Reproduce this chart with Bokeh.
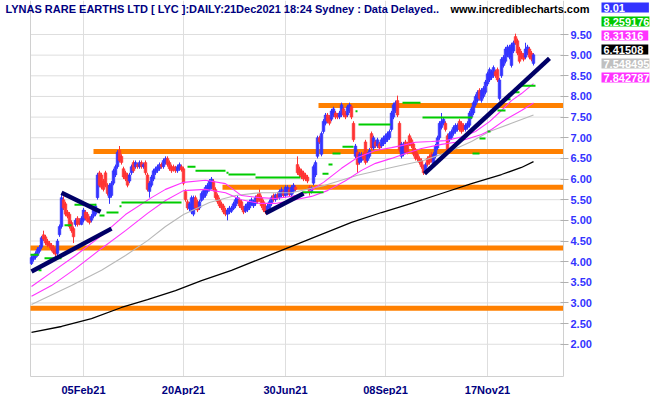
from bokeh.plotting import figure
from bokeh.models import Range1d, FixedTicker, NumeralTickFormatter, Label, ColumnDataSource
from bokeh.embed import file_html
from bokeh.resources import INLINE

# ---------------- data ----------------
opens = [
    3.95, 4.05, 4.10, 4.15, 4.25, 4.35, 4.65, 4.60, 4.50, 4.45,
    4.40, 4.35, 4.30, 4.20, 4.65, 4.85, 5.50, 5.40, 5.20, 5.15,
    4.95, 4.80, 4.90, 5.05, 5.00, 4.90, 5.00, 5.20, 5.15, 5.05,
    5.00, 5.10, 5.15, 5.55, 6.15, 6.10, 5.95, 6.15, 5.85, 5.55,
    5.60, 5.90, 6.10, 6.30, 6.70, 6.55, 6.25, 6.15, 6.10, 5.95,
    6.15, 6.40, 6.30, 6.35, 6.30, 6.40, 6.30, 6.40, 6.10, 5.70,
    5.85, 6.00, 6.15, 6.20, 6.25, 6.35, 6.30, 6.40, 6.50, 6.40,
    6.30, 6.30, 6.28, 6.20, 6.25, 6.30, 6.25, 5.70, 5.45, 5.28,
    5.20, 5.15, 5.55, 5.45, 5.30, 5.48, 5.55, 5.60, 5.70, 5.75,
    5.80, 5.95, 5.75, 5.60, 5.50, 5.40, 5.35, 5.25, 5.15, 5.20,
    5.22, 5.28, 5.35, 5.42, 5.50, 5.45, 5.30, 5.22, 5.25, 5.30,
    5.38, 5.35, 5.40, 5.60, 5.65, 5.55, 5.45, 5.35, 5.25, 5.30,
    5.40, 5.60, 5.50, 5.62, 5.55, 5.60, 5.70, 5.60, 5.65, 5.75,
    5.62, 5.70, 5.80, 6.35, 6.25, 6.20, 6.15, 6.10, 6.05, 5.80,
    5.70, 5.90, 6.10, 6.55, 7.00, 6.60, 7.15, 7.35, 7.55, 7.50,
    7.45, 7.55, 7.60, 7.55, 7.50, 7.55, 7.70, 7.60, 7.55, 7.65,
    7.75, 7.35, 6.55, 6.65, 6.40, 6.45, 6.60, 6.90, 6.45, 6.55,
    7.10, 6.75, 6.90, 6.80, 6.85, 6.80, 6.85, 6.90, 6.95, 7.00,
    7.20, 7.50, 7.65, 7.90, 7.35, 6.55, 6.60, 6.90, 6.85, 7.05,
    6.95, 6.85, 6.70, 6.60, 6.50, 6.45, 6.30, 6.20, 6.50, 6.55,
    6.60, 6.35, 6.55, 6.75, 7.00, 7.25, 7.35, 7.35, 7.05, 6.95,
    7.00, 7.10, 7.15, 7.20, 7.40, 7.35, 7.30, 7.20, 7.25, 7.30,
    7.50, 7.60, 7.80, 7.90, 8.15, 7.90, 8.00, 8.10, 8.30, 8.40,
    8.45, 8.50, 8.60, 8.65, 7.95, 8.50, 8.75, 8.85, 9.00, 8.95,
    8.75, 9.10, 9.45, 9.35, 9.15, 9.05, 9.00, 8.95, 9.05, 9.15,
    9.05, 8.80,
]
highs = [
    4.15, 4.18, 4.25, 4.35, 4.40, 4.62, 4.75, 4.65, 4.55, 4.50,
    4.45, 4.40, 4.32, 4.55, 4.90, 5.65, 5.58, 5.45, 5.25, 5.20,
    5.00, 4.85, 5.05, 5.10, 5.05, 5.10, 5.30, 5.25, 5.20, 5.10,
    5.15, 5.35, 5.40, 6.15, 6.20, 6.15, 6.00, 6.20, 5.90, 5.90,
    5.95, 6.25, 6.35, 6.70, 6.80, 6.60, 6.30, 6.20, 6.15, 6.15,
    6.35, 6.45, 6.45, 6.40, 6.45, 6.45, 6.40, 6.45, 6.15, 5.95,
    6.10, 6.25, 6.30, 6.35, 6.40, 6.40, 6.50, 6.55, 6.55, 6.45,
    6.35, 6.35, 6.32, 6.35, 6.40, 6.35, 6.30, 5.75, 5.50, 5.45,
    5.60, 5.60, 5.60, 5.50, 5.50, 5.70, 5.75, 5.85, 5.90, 6.00,
    6.05, 6.00, 5.80, 5.65, 5.55, 5.45, 5.40, 5.30, 5.30, 5.35,
    5.35, 5.45, 5.55, 5.60, 5.55, 5.50, 5.35, 5.40, 5.45, 5.50,
    5.55, 5.50, 5.60, 5.65, 5.75, 5.60, 5.50, 5.40, 5.40, 5.50,
    5.60, 5.65, 5.65, 5.68, 5.75, 5.80, 5.75, 5.85, 5.85, 5.80,
    5.85, 5.90, 5.85, 6.55, 6.30, 6.25, 6.20, 6.15, 6.10, 5.85,
    5.82, 6.35, 6.45, 7.05, 7.05, 7.15, 7.45, 7.60, 7.60, 7.55,
    7.70, 7.75, 7.65, 7.60, 7.65, 7.85, 7.75, 7.65, 7.80, 7.85,
    7.80, 7.40, 6.85, 6.70, 6.65, 6.65, 6.65, 6.95, 6.65, 6.75,
    7.15, 7.05, 6.95, 7.00, 6.90, 7.00, 7.05, 7.10, 7.15, 7.20,
    7.65, 7.85, 7.90, 8.02, 7.40, 6.90, 6.90, 6.95, 6.90, 7.10,
    7.00, 6.90, 6.75, 6.65, 6.55, 6.50, 6.35, 6.40, 6.55, 6.60,
    6.65, 6.65, 6.85, 7.05, 7.40, 7.60, 7.50, 7.40, 7.10, 7.15,
    7.20, 7.30, 7.35, 7.35, 7.45, 7.40, 7.35, 7.35, 7.40, 7.65,
    7.75, 7.90, 8.05, 8.15, 8.20, 8.20, 8.25, 8.40, 8.60, 8.70,
    8.65, 8.75, 8.65, 8.70, 8.45, 8.95, 9.00, 9.20, 9.25, 9.25,
    9.30, 9.35, 9.52, 9.40, 9.20, 9.10, 9.05, 9.30, 9.25, 9.20,
    9.10, 9.05,
]
lows = [
    3.92, 4.00, 4.05, 4.12, 4.20, 4.30, 4.50, 4.40, 4.35, 4.33,
    4.25, 4.18, 4.12, 4.15, 4.60, 4.80, 5.25, 5.10, 5.05, 4.80,
    4.70, 4.45, 4.85, 4.85, 4.88, 4.88, 4.95, 5.00, 4.95, 4.90,
    4.95, 5.05, 5.10, 5.50, 5.80, 5.75, 5.70, 5.80, 5.60, 5.40,
    5.55, 5.85, 6.05, 6.25, 6.40, 6.35, 6.00, 5.95, 5.80, 5.90,
    6.10, 6.15, 6.25, 6.25, 6.25, 6.25, 6.25, 6.10, 5.70, 5.55,
    5.80, 5.95, 6.10, 6.15, 6.20, 6.25, 6.25, 6.35, 6.30, 6.20,
    6.15, 6.18, 6.15, 6.15, 6.20, 6.18, 5.85, 5.45, 5.25, 5.22,
    5.15, 5.10, 5.25, 5.20, 5.25, 5.45, 5.50, 5.55, 5.65, 5.70,
    5.75, 5.70, 5.50, 5.40, 5.30, 5.25, 5.15, 5.10, 5.00, 5.15,
    5.18, 5.25, 5.30, 5.40, 5.30, 5.25, 5.15, 5.18, 5.20, 5.25,
    5.35, 5.30, 5.35, 5.40, 5.45, 5.30, 5.20, 5.15, 5.20, 5.25,
    5.35, 5.45, 5.45, 5.50, 5.50, 5.55, 5.55, 5.55, 5.60, 5.58,
    5.58, 5.65, 5.70, 6.10, 6.05, 6.00, 5.95, 5.95, 5.90, 5.60,
    5.65, 5.85, 6.05, 6.50, 6.85, 6.55, 7.10, 7.30, 7.35, 7.30,
    7.40, 7.50, 7.45, 7.45, 7.45, 7.50, 7.50, 7.45, 7.50, 7.60,
    7.45, 6.90, 6.50, 6.15, 6.35, 6.40, 6.45, 6.35, 6.40, 6.50,
    6.70, 6.70, 6.75, 6.75, 6.70, 6.75, 6.80, 6.85, 6.90, 6.95,
    7.15, 7.45, 7.60, 7.50, 6.65, 6.50, 6.55, 6.60, 6.60, 6.80,
    6.75, 6.55, 6.45, 6.43, 6.35, 6.25, 6.10, 6.15, 6.30, 6.35,
    6.40, 6.30, 6.50, 6.70, 6.95, 7.20, 7.30, 7.15, 6.65, 6.90,
    6.95, 7.05, 7.10, 7.15, 7.15, 7.10, 7.15, 7.15, 7.20, 7.25,
    7.45, 7.55, 7.75, 7.85, 7.90, 7.85, 7.95, 8.05, 8.25, 8.35,
    8.40, 8.45, 8.45, 8.35, 7.90, 8.45, 8.70, 8.80, 8.95, 8.90,
    8.70, 9.05, 9.25, 9.00, 8.80, 8.90, 8.85, 8.90, 9.00, 8.90,
    8.85, 8.75,
]
closes = [
    4.10, 4.15, 4.20, 4.30, 4.35, 4.58, 4.55, 4.45, 4.40, 4.38,
    4.30, 4.22, 4.18, 4.50, 4.85, 5.55, 5.30, 5.15, 5.10, 4.85,
    4.75, 4.60, 5.00, 4.90, 4.92, 5.05, 5.25, 5.05, 4.98, 4.95,
    5.10, 5.30, 5.35, 6.10, 5.85, 5.80, 5.75, 5.85, 5.65, 5.85,
    5.90, 6.20, 6.30, 6.65, 6.45, 6.40, 6.05, 6.00, 5.85, 6.10,
    6.30, 6.20, 6.40, 6.30, 6.40, 6.30, 6.35, 6.15, 5.75, 5.90,
    6.05, 6.20, 6.25, 6.30, 6.35, 6.30, 6.45, 6.50, 6.35, 6.25,
    6.20, 6.22, 6.20, 6.30, 6.35, 6.22, 5.90, 5.50, 5.30, 5.40,
    5.55, 5.55, 5.30, 5.25, 5.45, 5.65, 5.72, 5.80, 5.85, 5.95,
    6.00, 5.75, 5.55, 5.45, 5.35, 5.30, 5.20, 5.15, 5.25, 5.30,
    5.30, 5.40, 5.50, 5.55, 5.35, 5.30, 5.20, 5.35, 5.40, 5.45,
    5.50, 5.45, 5.55, 5.45, 5.50, 5.35, 5.25, 5.20, 5.35, 5.45,
    5.55, 5.50, 5.62, 5.55, 5.70, 5.75, 5.60, 5.80, 5.80, 5.62,
    5.80, 5.85, 5.75, 6.15, 6.10, 6.05, 6.00, 6.00, 5.95, 5.70,
    5.78, 6.30, 6.40, 7.00, 6.90, 7.10, 7.40, 7.55, 7.40, 7.35,
    7.65, 7.70, 7.50, 7.50, 7.60, 7.80, 7.55, 7.50, 7.75, 7.80,
    7.50, 6.95, 6.80, 6.35, 6.60, 6.60, 6.50, 6.40, 6.60, 6.70,
    6.75, 7.00, 6.80, 6.95, 6.75, 6.95, 7.00, 7.05, 7.10, 7.15,
    7.60, 7.80, 7.85, 7.55, 6.70, 6.85, 6.85, 6.65, 6.65, 6.85,
    6.80, 6.60, 6.50, 6.48, 6.40, 6.30, 6.15, 6.35, 6.35, 6.40,
    6.45, 6.60, 6.80, 7.00, 7.35, 7.40, 7.45, 7.20, 6.70, 7.10,
    7.15, 7.25, 7.30, 7.30, 7.20, 7.15, 7.20, 7.30, 7.35, 7.60,
    7.70, 7.85, 8.00, 8.10, 7.95, 8.15, 8.20, 8.35, 8.55, 8.65,
    8.60, 8.70, 8.50, 8.40, 8.40, 8.90, 8.95, 9.15, 9.20, 9.20,
    9.25, 9.30, 9.30, 9.05, 8.85, 8.95, 8.90, 9.15, 9.20, 8.95,
    8.90, 9.01,
]

# date axis (trading-day index of each labelled date)
tick_index = [26, 76, 127, 177, 228]
tick_labels = ["05Feb21", "20Apr21", "30Jun21", "08Sep21", "17Nov21"]
price_ticks = [2.0, 2.5, 3.0, 3.5, 4.0, 4.5, 5.0, 5.5, 6.0, 6.5, 7.0, 7.5, 8.0, 8.5, 9.0, 9.5]

# moving averages (sampled at bar index)
ma_black_idx = [0, 15, 30, 45, 58, 72, 85, 100, 115, 130, 145, 160, 175, 190, 205, 220, 235, 245, 251]
ma_black_val = [2.29, 2.43, 2.62, 2.89, 3.08, 3.30, 3.54, 3.79, 4.08, 4.37, 4.66, 4.95, 5.19, 5.41,
                5.65, 5.89, 6.11, 6.28, 6.42]
ma_gray_idx = [0, 5, 20, 35, 47, 58, 67, 76, 89, 102, 114, 130, 146, 163, 180, 196, 209, 220, 229, 240, 251]
ma_gray_val = [2.96, 3.08, 3.42, 3.79, 4.15, 4.51, 4.85, 5.14, 5.43, 5.60, 5.67, 5.67, 5.84, 6.09,
               6.28, 6.45, 6.67, 6.91, 7.15, 7.35, 7.55]
ma_fast_idx = [0, 10, 22, 35, 47, 60, 67, 76, 87, 97, 105, 114, 122, 130, 137, 146, 155, 163, 172, 180,
               185, 192, 200, 207, 216, 222, 229, 235, 240, 245, 251]
ma_fast_val = [3.40, 3.74, 4.15, 4.63, 5.14, 5.55, 5.75, 5.92, 5.97, 5.89, 5.60, 5.55, 5.53, 5.58, 5.65,
               5.92, 6.26, 6.52, 6.69, 6.76, 6.81, 6.89, 6.91, 6.93, 7.03, 7.15, 7.39, 7.66, 7.90, 8.07, 8.31]
ma_slow_idx = [0, 10, 22, 35, 47, 58, 67, 76, 87, 97, 105, 114, 122, 130, 140, 148, 157, 165, 172, 180,
               187, 195, 205, 212, 217, 225, 230, 237, 245, 251]
ma_slow_val = [3.16, 3.42, 3.83, 4.32, 4.75, 5.17, 5.48, 5.72, 5.75, 5.67, 5.50, 5.41, 5.41, 5.48, 5.58,
               5.72, 5.96, 6.21, 6.38, 6.50, 6.62, 6.74, 6.84, 6.89, 6.96, 7.08, 7.20, 7.44, 7.66, 7.84]

# green stop steps
stop_start = [-0.5, 3.5, 6.5, 16.5, 21.5, 34, 37.5, 44, 45, 78, 82, 97.5, 98.5, 112, 135.5, 145.5, 148.5,
              150.5, 155.5, 162, 163.5, 185.5, 195.5, 220.5, 224, 228, 233, 237, 240.5, 244]
stop_end = [3.5, 5, 15, 20, 32.5, 36.5, 43.5, 45, 75, 82, 97, 98.5, 112, 134.5, 146, 148.5, 150.5, 154.5,
            161, 163, 179.5, 194.5, 220.5, 224, 227, 229.5, 237, 239.5, 244, 252]
stop_level = [4.17, 3.79, 4.08, 4.88, 5.38, 5.12, 5.19, 5.34, 5.43, 6.30, 6.20, 6.15, 6.11, 6.04, 5.68,
              6.13, 6.35, 6.62, 6.78, 7.64, 7.32, 7.85, 7.49, 6.62, 6.98, 7.15, 7.66, 7.93, 8.10, 8.26]

# orange support / resistance levels
level_price = [7.78, 6.67, 5.80, 4.33, 2.87]
level_start = [143.5, 31, 95.5, -0.5, -0.5]
level_end = [266, 266, 266, 266, 266]

# navy trend lines
trend_x0 = [0, 15, 117, 196.5]
trend_y0 = [3.76, 5.67, 5.17, 6.13]
trend_x1 = [40, 34.5, 136, 259]
trend_y1 = [4.80, 5.21, 5.65, 8.92]

# last-value panel
panel_values = ["9.01", "8.259176", "8.31316", "6.41508", "7.548495", "7.842787"]
panel_colors = ["#3333ff", "#00c800", "#ff33ff", "#000000", "#c0c0c0", "#ff33ff"]

title_text = "LYNAS RARE EARTHS LTD [ LYC ]:DAILY:21Dec2021 18:24 Sydney : Data Delayed.."
site_text = "www.incrediblecharts.com"

# ---------------- layout constants ----------------
W, H = 651, 395
PX = 41.3                     # pixels per 1.00 of price
BAR_PX = 2.0                  # pixels per trading day
Y_TOP = 9.5 + 34 / PX         # price at top edge of canvas
Y_BOT = Y_TOP - H / PX
X_LEFT = -0.5 - 30 / BAR_PX   # bar index at left edge of canvas
X_RIGHT = X_LEFT + W / BAR_PX
FRAME_BOT = Y_TOP - 376 / PX  # price at the bottom frame line
FRAME_L = -0.5                # bar index of the left frame line
AXIS_X = 266.0                # bar index of the price axis
UP = "#3333ff"
DOWN = "#ff3333"
FONT = "Liberation Sans"
GRID = "#dedede"

p = figure(width=W, height=H, output_backend="svg", toolbar_location=None,
           x_range=Range1d(X_LEFT, X_RIGHT), y_range=Range1d(Y_BOT, Y_TOP),
           y_axis_location="right", min_border=0, min_border_left=0, min_border_right=0,
           min_border_top=0, min_border_bottom=0)
p.background_fill_color = "white"
p.border_fill_color = "white"
p.outline_line_color = None
p.xgrid.visible = False
p.ygrid.visible = False

# grid lines limited to the chart area
p.segment(x0=tick_index, y0=[FRAME_BOT] * len(tick_index), x1=tick_index, y1=[Y_TOP] * len(tick_index),
          line_color=GRID, line_width=1)
p.segment(x0=[FRAME_L] * len(price_ticks), y0=price_ticks, x1=[AXIS_X] * len(price_ticks), y1=price_ticks,
          line_color=GRID, line_width=1)
p.segment(x0=[FRAME_L], y0=[FRAME_BOT], x1=[FRAME_L], y1=[Y_TOP], line_color="#d0d0d0", line_width=1)

# axes (drawn at fixed data positions inside the canvas)
xt = FixedTicker(ticks=tick_index)
p.xaxis.ticker = xt
p.xaxis.fixed_location = FRAME_BOT
p.xaxis.bounds = (FRAME_L, AXIS_X)
p.xaxis.major_label_overrides = {t: l for t, l in zip(tick_index, tick_labels)}
p.xaxis.axis_line_color = "#d0d0d0"
p.xaxis.major_tick_line_color = None
p.xaxis.minor_tick_line_color = None
p.xaxis.major_tick_out = 0
p.xaxis.major_tick_in = 0
p.xaxis.major_label_standoff = 7
p.xaxis.major_label_text_font = FONT
p.xaxis.major_label_text_font_style = "bold"
p.xaxis.major_label_text_font_size = "11px"
p.xaxis.major_label_text_color = "#000080"

yt = FixedTicker(ticks=price_ticks)
p.yaxis.ticker = yt
p.yaxis.fixed_location = AXIS_X
p.yaxis.bounds = (FRAME_BOT, Y_TOP)
p.yaxis.formatter = NumeralTickFormatter(format="0.00")
p.yaxis.axis_line_color = "#d0d0d0"
p.yaxis.major_tick_line_color = "#b0b0b0"
p.yaxis.minor_tick_line_color = None
p.yaxis.major_tick_in = 3
p.yaxis.major_tick_out = 5
p.yaxis.major_label_standoff = 2
p.yaxis.major_label_text_font = FONT
p.yaxis.major_label_text_font_style = "bold"
p.yaxis.major_label_text_font_size = "11px"
p.yaxis.major_label_text_color = "#3333ff"

# orange levels
p.segment(x0=level_start, y0=level_price, x1=level_end, y1=level_price,
          line_color="#ff8000", line_width=5)

# candles
idx = list(range(len(closes)))
cols = [UP if c >= o else DOWN for o, c in zip(opens, closes)]
src = ColumnDataSource(dict(
    x=idx, high=highs, low=lows,
    top=[max(o, c) for o, c in zip(opens, closes)],
    bottom=[min(o, c) for o, c in zip(opens, closes)],
    color=cols))
p.segment(x0="x", y0="low", x1="x", y1="high", line_color="color", line_width=1, source=src)
p.vbar(x="x", width=1.35, top="top", bottom="bottom", fill_color="color",
       line_color="color", line_width=0.5, source=src)

# moving averages
p.line(ma_black_idx, ma_black_val, line_color="#000000", line_width=1.3)
p.line(ma_gray_idx, ma_gray_val, line_color="#b8b8b8", line_width=1.1)
p.line(ma_slow_idx, ma_slow_val, line_color="#ff33ff", line_width=1.1)
p.line(ma_fast_idx, ma_fast_val, line_color="#ff33ff", line_width=1.1)

# green stops
p.segment(x0=stop_start, y0=stop_level, x1=stop_end, y1=stop_level,
          line_color="#00cc00", line_width=2)

# trend lines
p.segment(x0=trend_x0, y0=trend_y0, x1=trend_x1, y1=trend_y1,
          line_color="#000066", line_width=4.5)

# header texts
p.add_layout(Label(x=X_LEFT + 5 / BAR_PX, y=Y_TOP - 2 / PX, text=title_text,
                   text_baseline="top", text_align="left",
                   text_font=FONT, text_font_style="bold", text_font_size="11px",
                   text_color="#000080"))
p.add_layout(Label(x=X_LEFT + 450 / BAR_PX, y=Y_TOP - 2 / PX, text=site_text,
                   text_baseline="top", text_align="left",
                   text_font=FONT, text_font_style="bold", text_font_size="11px",
                   text_color="#000000"))

# last-value panel (fixed-width boxes right of the price axis)
BOX_X = X_LEFT + 601 / BAR_PX
for k, (txt, col) in enumerate(zip(panel_values, panel_colors)):
    tw = sum(3.06 if ch == "." else 6.12 for ch in txt)
    pad_r = max(0, int(round(47 - 2 - tw)))
    p.add_layout(Label(x=BOX_X, y=Y_TOP - (2 + 14 * k) / PX, text=txt,
                       text_baseline="top", text_align="left",
                       text_font=FONT, text_font_style="bold", text_font_size="11px",
                       text_color="white", background_fill_color=col, background_fill_alpha=1.0,
                       padding=dict(left=2, right=pad_r, top=1, bottom=1)))

open("out.html", "w").write(file_html(p, INLINE))
